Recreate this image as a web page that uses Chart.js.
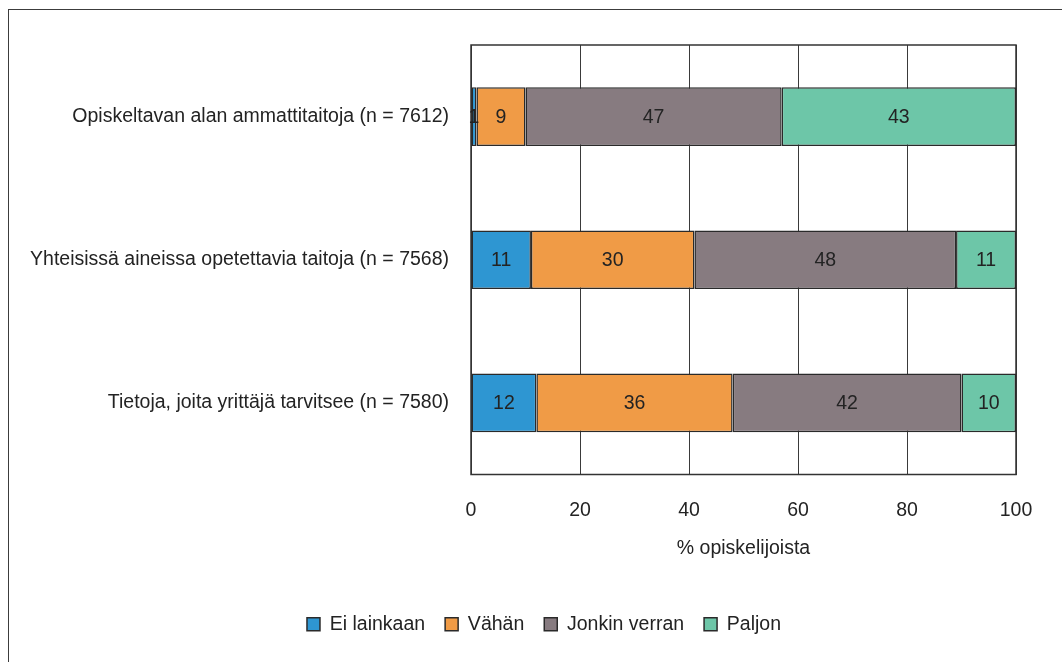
<!DOCTYPE html>
<html>
<head>
<meta charset="utf-8">
<script src="https://cdn.jsdelivr.net/npm/chart.js@4.4.0/dist/chart.umd.min.js"></script>
<style>
    html, body { margin: 0; padding: 0; background: #fff; overflow: hidden; }
    #wrap { position: relative; width: 1062px; height: 662px; }
    #frame {
        position: absolute; left: 8px; top: 9px; width: 1100px; height: 700px;
        border-left: 1.5px solid #3c3c3c; border-top: 1.5px solid #3c3c3c;
    }
    canvas { position: absolute; left: 0; top: 0; }
</style>
</head>
<body>
<div id="wrap">
    <div id="frame"></div>
    <canvas id="chart" width="1062" height="662"></canvas>
</div>
<script>
// Data
const categories = [
    'Opiskeltavan alan ammattitaitoja (n = 7612)',
    'Yhteisissä aineissa opetettavia taitoja (n = 7568)',
    'Tietoja, joita yrittäjä tarvitsee (n = 7580)'
];
const seriesNames = ['Ei lainkaan', 'Vähän', 'Jonkin verran', 'Paljon'];
const eiLainkaan = [1, 11, 12];
const vahan = [9, 30, 36];
const jonkinVerran = [47, 48, 42];
const paljon = [43, 11, 10];
const xTicks = [0, 20, 40, 60, 80, 100];

const colors = ['#2e96d2', '#f09b46', '#877b80', '#6dc6a8'];
const FONT = "'Liberation Sans', Arial, sans-serif";
const FONT_SIZE = 19.5;
const TEXT = '#232323';

// Draw value labels in the middle of each segment
const valueLabels = {
    id: 'valueLabels',
    afterDatasetsDraw(chart) {
        const ctx = chart.ctx;
        ctx.save();
        ctx.font = FONT_SIZE + 'px ' + FONT;
        ctx.fillStyle = TEXT;
        ctx.textAlign = 'center';
        ctx.textBaseline = 'middle';
        chart.data.datasets.forEach((ds, i) => {
            chart.getDatasetMeta(i).data.forEach((bar, j) => {
                ctx.fillText(ds.data[j], (bar.x + bar.base) / 2, bar.y + 1);
            });
        });
        ctx.restore();
    }
};

// Plot frame
const plotBorder = {
    id: 'plotBorder',
    beforeDatasetsDraw(chart) {
        const a = chart.chartArea;
        const ctx = chart.ctx;
        ctx.save();
        ctx.strokeStyle = '#333';
        ctx.lineWidth = 1.5;
        ctx.strokeRect(a.left, a.top, a.right - a.left, a.bottom - a.top);
        ctx.restore();
    }
};

// Legend sits centred under the whole figure, a bit right of the canvas middle
const legendShift = {
    id: 'legendShift',
    afterLayout(chart) {
        chart.legend.left += 26;
        chart.legend.right += 26;
    }
};

const ctx = document.getElementById('chart').getContext('2d');
new Chart(ctx, {
    type: 'bar',
    data: {
        labels: categories,
        datasets: [eiLainkaan, vahan, jonkinVerran, paljon].map((d, i) => ({
            label: seriesNames[i],
            data: d,
            backgroundColor: colors[i],
            borderColor: '#2a2a2a',
            borderWidth: 1.5,
            borderSkipped: false,
            categoryPercentage: 1,
            barPercentage: 0.41
        }))
    },
    options: {
        indexAxis: 'y',
        responsive: false,
        animation: false,
        layout: { padding: { left: 20, right: 46, top: 45, bottom: 18 } },
        scales: {
            x: {
                stacked: true,
                min: 0,
                max: 100,
                afterBuildTicks: scale => { scale.ticks = xTicks.map(v => ({ value: v })); },
                afterFit: scale => { scale.height = 120; },
                grid: { color: '#3a3a3a', lineWidth: 1, drawTicks: false },
                border: { display: false },
                ticks: { color: TEXT, padding: 24, font: { family: FONT, size: FONT_SIZE } },
                title: {
                    display: true,
                    text: '% opiskelijoista',
                    color: TEXT,
                    font: { family: FONT, size: FONT_SIZE },
                    padding: { top: 10, bottom: 34 }
                }
            },
            y: {
                stacked: true,
                afterFit: scale => { scale.width = 451; },
                grid: { display: false },
                border: { display: false },
                ticks: { color: TEXT, padding: 14, font: { family: FONT, size: FONT_SIZE } }
            }
        },
        plugins: {
            legend: {
                position: 'bottom',
                labels: {
                    color: TEXT,
                    boxWidth: 13,
                    boxHeight: 13,
                    padding: 20,
                    font: { family: FONT, size: FONT_SIZE }
                }
            },
            tooltip: { enabled: false }
        }
    },
    plugins: [plotBorder, valueLabels, legendShift]
});
</script>
</body>
</html>
